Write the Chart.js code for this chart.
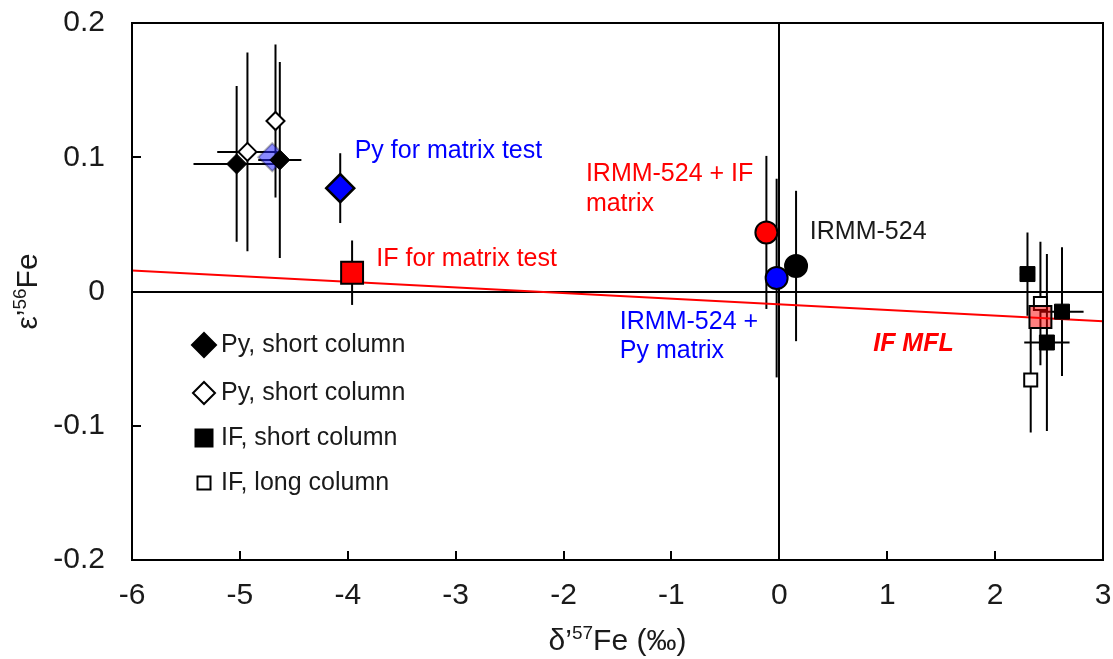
<!DOCTYPE html>
<html>
<head>
<meta charset="utf-8">
<script src="https://cdn.jsdelivr.net/npm/chart.js"></script>
<style>
  html, body { margin: 0; padding: 0; background: #fff; }
  canvas { display: block; }
</style>
</head>
<body>
<canvas id="myChart" width="1113" height="659"></canvas>
<script>
const FONT = "'Liberation Sans', Arial, sans-serif";

// axis ranges / ticks
const xTicks = [-6, -5, -4, -3, -2, -1, 0, 1, 2, 3];
const yTicks = [-0.2, -0.1, 0, 0.1, 0.2];

// Py, short column (filled diamonds)
const pyShortX = [-5.03, -4.63];
const pyShortY = [0.095, 0.098];
const pyShortErrX = [0.4, 0.2];
const pyShortErrY = [0.058, 0.073];

// Py, "short" column (open diamonds)
const pyLongX = [-4.93, -4.67];
const pyLongY = [0.104, 0.127];
const pyLongErrX = [0.28, 0];
const pyLongErrY = [0.074, 0.057];

// IF, short column (filled squares)
const ifShortX = [2.30, 2.62, 2.48];
const ifShortY = [0.013, -0.015, -0.038];
const ifShortErrX = [0.07, 0.2, 0.21];
const ifShortErrY = [0.031, 0.048, 0.066];

// IF, long column (open squares)
const ifLongX = [2.42, 2.33];
const ifLongY = [-0.009, -0.066];
const ifLongErrX = [0.05, 0.06];
const ifLongErrY = [0.046, 0.039];

// averages
const pyMeanX = [-4.70];
const pyMeanY = [0.100];
const ifMeanX = [2.42];
const ifMeanY = [-0.019];

// matrix tests
const pyTestX = [-4.07];
const pyTestY = [0.077];
const pyTestErrY = [0.026];
const ifTestX = [-3.96];
const ifTestY = [0.014];
const ifTestErrY = [0.024];

// IRMM-524 standards
const irmmIfX = [-0.12];
const irmmIfY = [0.044];
const irmmIfErrY = [0.057];
const irmmPyX = [-0.025];
const irmmPyY = [0.010];
const irmmPyErrY = [0.074];
const irmmX = [0.155];
const irmmY = [0.019];
const irmmErrY = [0.056];

// IF mass fractionation line
const mflX = [-6, 3];
const mflY = [0.0157, -0.0221];

function toPoints (xs, ys) {
  return xs.map((x, i) => ({x: x, y: ys[i]}));
}

// labels written on the plot
const notes = [
  {text: 'Py for matrix test', x: -3.936, y: 0.1046, color: '#0000ff'},
  {text: 'IF for matrix test', x: -3.735, y: 0.024, color: '#ff0000'},
  {text: 'IRMM-524 + IF', x: -1.793, y: 0.0873, color: '#ff0000'},
  {text: 'matrix', x: -1.793, y: 0.065, color: '#ff0000'},
  {text: 'IRMM-524', x: 0.283, y: 0.0439, color: '#1a1a1a'},
  {text: 'IRMM-524 +', x: -1.478, y: -0.0226, color: '#0000ff'},
  {text: 'Py matrix', x: -1.478, y: -0.0442, color: '#0000ff'},
  {text: 'IF MFL', x: 0.87, y: -0.0392, color: '#ff0000', bold: true}
];

const legendItems = [
  {text: 'Py, short column', shape: 'diamond', fill: '#000', size: 12, y: 345},
  {text: 'Py, short column', shape: 'diamond', fill: '#fff', size: 11, y: 393},
  {text: 'IF, short column', shape: 'square', fill: '#000', size: 8.5, y: 438},
  {text: 'IF, long column', shape: 'square', fill: '#fff', size: 6.5, y: 483}
];

const errorBars = {
  id: 'errorBars',
  beforeDatasetsDraw (chart) {
    const {ctx} = chart;
    const xs = chart.scales.x, ys = chart.scales.y;
    ctx.save();
    ctx.strokeStyle = '#000';
    ctx.lineWidth = 2;
    chart.data.datasets.forEach(ds => {
      if (!ds.errY) return;
      ds.data.forEach((p, i) => {
        const px = xs.getPixelForValue(p.x);
        const py = ys.getPixelForValue(p.y);
        ctx.beginPath();
        if (ds.errY[i]) {
          ctx.moveTo(px, ys.getPixelForValue(p.y - ds.errY[i]));
          ctx.lineTo(px, ys.getPixelForValue(p.y + ds.errY[i]));
        }
        if (ds.errX && ds.errX[i]) {
          ctx.moveTo(xs.getPixelForValue(p.x - ds.errX[i]), py);
          ctx.lineTo(xs.getPixelForValue(p.x + ds.errX[i]), py);
        }
        ctx.stroke();
      });
    });
    ctx.restore();
  }
};

function drawSupText (ctx, parts, x, y, align) {
  // parts: [text, isSuperscript]
  const big = '30px ' + FONT, small = '19px ' + FONT;
  let total = 0;
  parts.forEach(p => { ctx.font = p[1] ? small : big; total += ctx.measureText(p[0]).width; });
  let cx = align === 'center' ? x - total / 2 : x;
  ctx.textAlign = 'left';
  ctx.textBaseline = 'alphabetic';
  parts.forEach(p => {
    ctx.font = p[1] ? small : big;
    ctx.fillText(p[0], cx, p[1] ? y - 11 : y);
    cx += ctx.measureText(p[0]).width;
  });
}

const decorations = {
  id: 'decorations',
  afterDraw (chart) {
    const {ctx, chartArea} = chart;
    const xs = chart.scales.x, ys = chart.scales.y;
    ctx.save();

    // frame
    ctx.strokeStyle = '#000';
    ctx.lineWidth = 2;
    ctx.strokeRect(chartArea.left, chartArea.top, chartArea.right - chartArea.left, chartArea.bottom - chartArea.top);

    // inward tick marks
    ctx.beginPath();
    xTicks.forEach(v => {
      const px = Math.round(xs.getPixelForValue(v));
      ctx.moveTo(px, chartArea.bottom);
      ctx.lineTo(px, chartArea.bottom - 9);
    });
    yTicks.forEach(v => {
      const py = Math.round(ys.getPixelForValue(v));
      ctx.moveTo(chartArea.left, py);
      ctx.lineTo(chartArea.left + 9, py);
    });
    ctx.stroke();

    // notes
    ctx.textAlign = 'left';
    ctx.textBaseline = 'middle';
    notes.forEach(n => {
      ctx.font = (n.bold ? 'italic bold ' : '') + '25px ' + FONT;
      ctx.fillStyle = n.color;
      ctx.fillText(n.text, xs.getPixelForValue(n.x), ys.getPixelForValue(n.y));
    });

    // legend
    legendItems.forEach(it => {
      const cx = 204, cy = it.y;
      ctx.beginPath();
      if (it.shape === 'diamond') {
        ctx.moveTo(cx - it.size, cy);
        ctx.lineTo(cx, cy - it.size);
        ctx.lineTo(cx + it.size, cy);
        ctx.lineTo(cx, cy + it.size);
        ctx.closePath();
      } else {
        ctx.rect(cx - it.size, cy - it.size, it.size * 2, it.size * 2);
      }
      ctx.fillStyle = it.fill;
      ctx.fill();
      ctx.lineWidth = 2;
      ctx.strokeStyle = '#000';
      ctx.stroke();
      ctx.fillStyle = '#1a1a1a';
      ctx.font = '25px ' + FONT;
      ctx.textBaseline = 'middle';
      ctx.fillText(it.text, 221, cy);
    });

    // axis titles
    ctx.fillStyle = '#1a1a1a';
    const midX = (chartArea.left + chartArea.right) / 2;
    drawSupText(ctx, [['δ’', false], ['57', true], ['Fe (‰)', false]], midX, 650, 'center');

    ctx.translate(26, (chartArea.top + chartArea.bottom) / 2);
    ctx.rotate(-Math.PI / 2);
    drawSupText(ctx, [['ε’', false], ['56', true], ['Fe', false]], 0, 11, 'center');

    ctx.restore();
  }
};

const ctx = document.getElementById('myChart');

new Chart(ctx, {
  type: 'scatter',
  data: {
    datasets: [
      {
        label: 'IRMM-524',
        data: toPoints(irmmX, irmmY), errY: irmmErrY,
        pointStyle: 'circle', pointRadius: 11, pointHoverRadius: 11,
        backgroundColor: '#000', borderColor: '#000', borderWidth: 2, order: 1
      },
      {
        label: 'IRMM-524 + Py matrix',
        data: toPoints(irmmPyX, irmmPyY), errY: irmmPyErrY,
        pointStyle: 'circle', pointRadius: 11, pointHoverRadius: 11,
        backgroundColor: '#0000ff', borderColor: '#000', borderWidth: 2, order: 2
      },
      {
        label: 'IRMM-524 + IF matrix',
        data: toPoints(irmmIfX, irmmIfY), errY: irmmIfErrY,
        pointStyle: 'circle', pointRadius: 11, pointHoverRadius: 11,
        backgroundColor: '#ff0000', borderColor: '#000', borderWidth: 2, order: 3
      },
      {
        label: 'IF for matrix test',
        data: toPoints(ifTestX, ifTestY), errY: ifTestErrY,
        pointStyle: 'rect', pointRadius: 15.5, pointHoverRadius: 15.5,
        backgroundColor: '#ff0000', borderColor: '#000', borderWidth: 2, order: 4
      },
      {
        label: 'Py for matrix test',
        data: toPoints(pyTestX, pyTestY), errY: pyTestErrY,
        pointStyle: 'rectRot', pointRadius: 14, pointHoverRadius: 14,
        backgroundColor: '#0000ff', borderColor: '#000', borderWidth: 2.5, order: 5
      },
      {
        label: 'IF mean',
        data: toPoints(ifMeanX, ifMeanY),
        pointStyle: 'rect', pointRadius: 15.5, pointHoverRadius: 15.5,
        backgroundColor: 'rgba(255,0,0,0.5)', borderColor: '#000', borderWidth: 2, order: 6
      },
      {
        label: 'IF, long column',
        data: toPoints(ifLongX, ifLongY), errX: ifLongErrX, errY: ifLongErrY,
        pointStyle: 'rect', pointRadius: 9.2, pointHoverRadius: 9.2,
        backgroundColor: '#fff', borderColor: '#000', borderWidth: 2, order: 7
      },
      {
        label: 'IF, short column',
        data: toPoints(ifShortX, ifShortY), errX: ifShortErrX, errY: ifShortErrY,
        pointStyle: 'rect', pointRadius: 10.6, pointHoverRadius: 10.6,
        backgroundColor: '#000', borderColor: '#000', borderWidth: 1, order: 8
      },
      {
        label: 'Py, short column',
        data: toPoints(pyShortX, pyShortY), errX: pyShortErrX, errY: pyShortErrY,
        pointStyle: 'rectRot', pointRadius: 10, pointHoverRadius: 10,
        backgroundColor: '#000', borderColor: '#000', borderWidth: 1, order: 9
      },
      {
        label: 'Py mean',
        data: toPoints(pyMeanX, pyMeanY),
        pointStyle: 'rectRot', pointRadius: 14, pointHoverRadius: 14,
        backgroundColor: 'rgba(40,40,255,0.55)', borderColor: 'rgba(0,0,0,0.3)', borderWidth: 2, order: 10
      },
      {
        label: 'Py, short column (open)',
        data: toPoints(pyLongX, pyLongY), errX: pyLongErrX, errY: pyLongErrY,
        pointStyle: 'rectRot', pointRadius: 9, pointHoverRadius: 9,
        backgroundColor: '#fff', borderColor: '#000', borderWidth: 2, order: 11
      },
      {
        label: 'IF MFL',
        type: 'line',
        data: toPoints(mflX, mflY),
        showLine: true, pointRadius: 0,
        borderColor: '#ff0000', borderWidth: 2, order: 12
      }
    ]
  },
  options: {
    responsive: false,
    animation: false,
    events: [],
    layout: {
      autoPadding: false,
      padding: {top: 23, right: 10, left: 0, bottom: 0}
    },
    plugins: {
      legend: {display: false},
      tooltip: {enabled: false}
    },
    scales: {
      x: {
        type: 'linear',
        min: -6,
        max: 3,
        afterFit: scale => {
          scale.height = 99;
          scale.paddingLeft = 0;
          scale.paddingRight = 0;
        },
        afterBuildTicks: scale => { scale.ticks = xTicks.map(v => ({value: v})); },
        border: {display: false},
        grid: {
          drawTicks: false,
          lineWidth: 2,
          color: c => (c.tick && c.tick.value === 0 ? '#000' : 'rgba(0,0,0,0)')
        },
        ticks: {
          padding: 18,
          color: '#1a1a1a',
          font: {family: FONT, size: 30},
          callback: v => String(v)
        }
      },
      y: {
        type: 'linear',
        min: -0.2,
        max: 0.2,
        afterFit: scale => {
          scale.width = 132;
          scale.paddingTop = 0;
          scale.paddingBottom = 0;
        },
        afterBuildTicks: scale => { scale.ticks = yTicks.map(v => ({value: v})); },
        border: {display: false},
        grid: {
          drawTicks: false,
          lineWidth: 2,
          color: c => (c.tick && c.tick.value === 0 ? '#000' : 'rgba(0,0,0,0)')
        },
        ticks: {
          padding: 27,
          color: '#1a1a1a',
          font: {family: FONT, size: 30},
          callback: v => String(v)
        }
      }
    }
  },
  plugins: [errorBars, decorations]
});
</script>
</body>
</html>
